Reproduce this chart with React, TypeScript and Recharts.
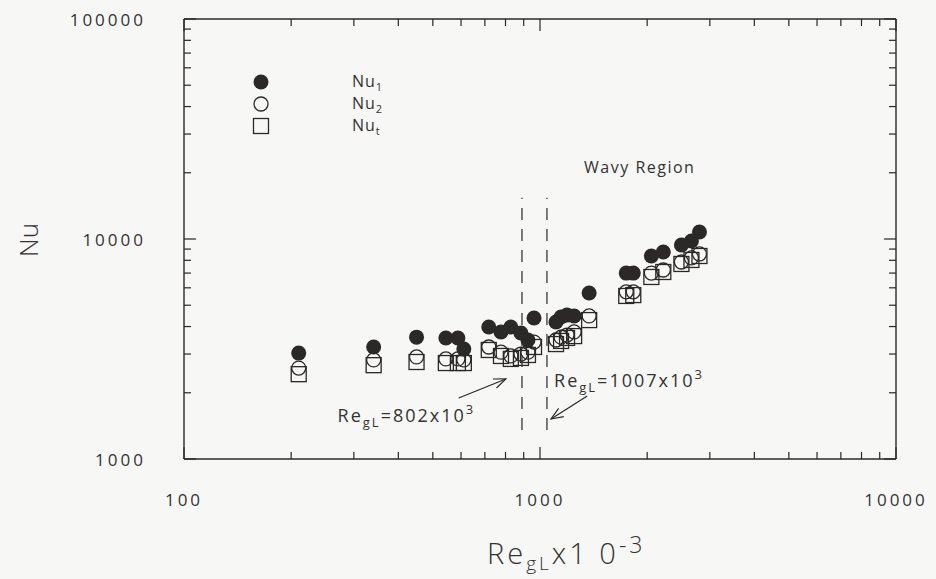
import { ScatterChart, Scatter, XAxis, YAxis, ReferenceLine, ReferenceDot, Legend } from 'recharts'

const reGL = [210, 341, 450, 544, 588, 611, 718, 777, 828, 884, 925, 962, 1109, 1146, 1191, 1247, 1374, 1747, 1828, 2055, 2220, 2496, 2663, 2805]
const nu1 = [3030, 3230, 3580, 3550, 3550, 3160, 3980, 3780, 3980, 3740, 3475, 4375, 4195, 4420, 4510, 4470, 5680, 7000, 7000, 8370, 8730, 9390, 9790, 10760]
const nu2 = [2590, 2820, 2910, 2850, 2850, 2820, 3230, 3060, 2940, 3000, 3060, 3400, 3475, 3580, 3660, 3780, 4470, 5750, 5750, 7000, 7230, 7860, 8200, 8550]
const nuT = [2430, 2670, 2760, 2730, 2730, 2730, 3130, 2940, 2850, 2880, 2970, 3230, 3330, 3440, 3550, 3620, 4280, 5510, 5560, 6720, 7080, 7700, 8030, 8370]

const xTicks = [100, 200, 300, 400, 500, 600, 700, 800, 900, 1000, 2000, 3000, 4000, 5000, 6000, 7000, 8000, 9000, 10000]
const yTicks = [1000, 2000, 3000, 4000, 5000, 6000, 7000, 8000, 9000, 10000, 20000, 30000, 40000, 50000, 60000, 70000, 80000, 90000, 100000]

// transition lines and their annotation arrows
const transitionRe = [890, 1046]
const transitionNu = [1355, 15400]

const INK = '#2b2828'
const BG = '#f7f7f5'
const FONT = "'Open Sans', 'DejaVu Sans', sans-serif"

const L = 184
const R = 896
const T = 19
const B = 459

const isMajor = (v: number) => Math.abs(Math.log10(v) - Math.round(Math.log10(v))) < 1e-6

const makeTick = (side: 'left' | 'right' | 'top' | 'bottom') => (props: any) => {
  const v = props.payload.value
  const c = props.payload.coordinate
  const len = isMajor(v) ? 12 : 7
  if (side === 'left' || side === 'right') {
    const x0 = side === 'left' ? L : R
    const dir = side === 'left' ? 1 : -1
    return (
      <g>
        <line x1={x0} x2={x0 + dir * len} y1={c} y2={c} stroke={INK} strokeWidth={1.2} />
        {side === 'left' && isMajor(v) && (
          <text x={L - 38} y={c} textAnchor="end" dominantBaseline="central" fontSize={17} letterSpacing={3} fill="#333" fontFamily={FONT}>
            {v}
          </text>
        )}
      </g>
    )
  }
  const y0 = side === 'bottom' ? B : T
  const dir = side === 'bottom' ? -1 : 1
  return (
    <g>
      <line x1={c} x2={c} y1={y0} y2={y0 + dir * len} stroke={INK} strokeWidth={1.2} />
      {side === 'bottom' && isMajor(v) && (
        <text x={c} y={B + 40} textAnchor="middle" dominantBaseline="central" fontSize={17} letterSpacing={3} fill="#333" fontFamily={FONT}>
          {v}
        </text>
      )}
    </g>
  )
}

const FilledDot = (p: any) => <circle cx={p.cx} cy={p.cy} r={7.5} fill={INK} />
const OpenDot = (p: any) => <circle cx={p.cx} cy={p.cy} r={7} fill="none" stroke={INK} strokeWidth={1.3} />
const OpenSquare = (p: any) => (
  <rect x={p.cx - 7.5} y={p.cy - 7.5} width={15} height={15} fill="none" stroke={INK} strokeWidth={1.3} />
)

const Arrow = (p: any) => {
  const ang = Math.atan2(p.y2 - p.y1, p.x2 - p.x1)
  const head = 13
  const spread = 0.38
  const hx1 = p.x2 - head * Math.cos(ang - spread)
  const hy1 = p.y2 - head * Math.sin(ang - spread)
  const hx2 = p.x2 - head * Math.cos(ang + spread)
  const hy2 = p.y2 - head * Math.sin(ang + spread)
  return (
    <g stroke={INK} strokeWidth={1.2} fill="none">
      <line x1={p.x1} y1={p.y1} x2={p.x2} y2={p.y2} />
      <polyline points={`${hx1},${hy1} ${p.x2},${p.y2} ${hx2},${hy2}`} />
    </g>
  )
}

const ReLabel = (value: string) => (p: any) => (
  <text x={p.cx} y={p.cy} fontSize={18} letterSpacing={2} fill="#333" fontFamily={FONT}>
    Re
    <tspan dy={5} fontSize={13}>gL</tspan>
    <tspan dy={-5}>={value}x10</tspan>
    <tspan dy={-8} fontSize={13}>3</tspan>
  </text>
)

const legendItems = [
  { sub: '1', Mark: FilledDot },
  { sub: '2', Mark: OpenDot },
  { sub: 't', Mark: OpenSquare },
]

const renderLegend = () => (
  <div style={{ fontFamily: FONT, color: '#333' }}>
    {legendItems.map(({ sub, Mark }) => (
      <div key={sub} style={{ display: 'flex', alignItems: 'center', height: 22 }}>
        <svg width={22} height={22}>
          <Mark cx={11} cy={11} />
        </svg>
        <span style={{ marginLeft: 80, fontSize: 16, letterSpacing: 1 }}>
          Nu<sub style={{ fontSize: 11 }}>{sub}</sub>
        </span>
      </div>
    ))}
  </div>
)

const toPoints = (ys: number[]) => reGL.map((x, i) => ({ x, y: ys[i] }))

export default function App() {
  return (
    <div style={{ position: 'absolute', left: 0, top: 0, width: 936, height: 579, background: BG }}>
      <ScatterChart width={936} height={579} margin={{ top: T - 1, right: 936 - R - 1, left: 0, bottom: 0 }}>
        <XAxis
          dataKey="x"
          type="number"
          scale="log"
          domain={[100, 10000]}
          ticks={xTicks}
          interval={0}
          allowDataOverflow
          height={579 - B}
          stroke={INK}
          strokeWidth={1.4}
          tickLine={false}
          tick={makeTick('bottom')}
          label={{
            content: () => (
              <text x={487} y={564} fontSize={29} letterSpacing={3} fill="#333" fontFamily={FONT} fontWeight={300}>
                Re
                <tspan dy={6} fontSize={19}>gL</tspan>
                <tspan dy={-6}>x1 0</tspan>
                <tspan dy={-11} fontSize={23}>-3</tspan>
              </text>
            ),
          }}
        />
        <XAxis
          xAxisId="top"
          dataKey="x"
          type="number"
          scale="log"
          domain={[100, 10000]}
          ticks={xTicks}
          interval={0}
          allowDataOverflow
          orientation="top"
          height={1}
          stroke={INK}
          strokeWidth={1.4}
          tickLine={false}
          tick={makeTick('top')}
        />
        <YAxis
          dataKey="y"
          type="number"
          scale="log"
          domain={[1000, 100000]}
          ticks={yTicks}
          interval={0}
          allowDataOverflow
          width={L}
          stroke={INK}
          strokeWidth={1.4}
          tickLine={false}
          tick={makeTick('left')}
          label={{
            content: () => (
              <text x={28} y={240} transform="rotate(-90 28 240)" textAnchor="middle" dominantBaseline="central" fontSize={26} fill="#333" fontFamily={FONT} fontWeight={300}>
                Nu
              </text>
            ),
          }}
        />
        <YAxis
          yAxisId="right"
          dataKey="y"
          type="number"
          scale="log"
          domain={[1000, 100000]}
          ticks={yTicks}
          interval={0}
          allowDataOverflow
          orientation="right"
          width={1}
          stroke={INK}
          strokeWidth={1.4}
          tickLine={false}
          tick={makeTick('right')}
        />
        <Legend layout="vertical" align="center" verticalAlign="middle" content={renderLegend} wrapperStyle={{ left: 250, top: 71, width: 160 }} />

        {transitionRe.map((re) => (
          <ReferenceLine
            key={re}
            segment={[{ x: re, y: transitionNu[0] }, { x: re, y: transitionNu[1] }]}
            stroke={INK}
            strokeWidth={1.2}
            strokeDasharray="12 9"
          />
        ))}
        <ReferenceLine segment={[{ x: 591, y: 1893 }, { x: 802, y: 2311 }]} shape={Arrow} />
        <ReferenceLine segment={[{ x: 1357, y: 1932 }, { x: 1074, y: 1520 }]} shape={Arrow} />
        <ReferenceDot x={270} y={1473} r={0} shape={ReLabel('802')} />
        <ReferenceDot x={1095} y={2125} r={0} shape={ReLabel('1007')} />
        <ReferenceDot
          x={1330}
          y={20000}
          r={0}
          shape={(p: any) => (
            <text x={p.cx} y={p.cy} fontSize={16} letterSpacing={1.5} fill="#333" fontFamily={FONT}>
              Wavy Region
            </text>
          )}
        />

        <Scatter name="Nut" data={toPoints(nuT)} shape={OpenSquare} isAnimationActive={false} />
        <Scatter name="Nu2" data={toPoints(nu2)} shape={OpenDot} isAnimationActive={false} />
        <Scatter name="Nu1" data={toPoints(nu1)} shape={FilledDot} isAnimationActive={false} />
      </ScatterChart>
    </div>
  )
}
